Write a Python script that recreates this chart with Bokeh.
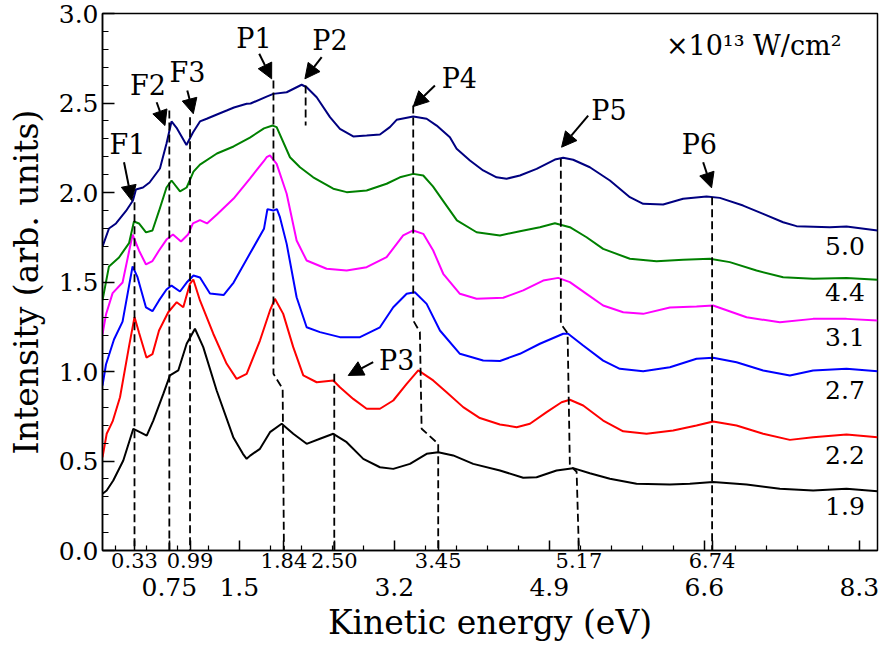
from bokeh.plotting import figure
from bokeh.models import (Range1d, FixedTicker, LinearAxis, Arrow, NormalHead,
                          ColumnDataSource)
from bokeh.core.properties import value
from bokeh.embed import file_html
from bokeh.resources import INLINE

FONT = "DejaVu Serif"

# ---------------- spectra (x: axis position in eV, y: intensity, arb. units) ----------------
x_19 = [0.0, 0.046, 0.118, 0.228, 0.338, 0.411, 0.485, 0.557, 0.667, 0.740, 0.831, 0.923, 1.014,
        1.105, 1.252, 1.434, 1.540, 1.581, 1.620, 1.727, 1.837, 1.965, 2.092, 2.239, 2.385, 2.531,
        2.678, 2.860, 3.043, 3.189, 3.372, 3.555, 3.682, 3.846, 4.066, 4.359, 4.614, 4.761, 4.980,
        5.162, 5.345, 5.565, 5.857, 6.223, 6.442, 6.697, 7.064, 7.429, 7.794, 8.160, 8.5]
y_19 = [0.317, 0.335, 0.391, 0.503, 0.680, 0.661, 0.642, 0.726, 0.875, 0.978, 1.006, 1.155, 1.239,
        1.136, 0.894, 0.633, 0.540, 0.512, 0.530, 0.568, 0.661, 0.708, 0.652, 0.596, 0.624, 0.652,
        0.605, 0.512, 0.465, 0.456, 0.484, 0.540, 0.549, 0.531, 0.484, 0.447, 0.406, 0.409, 0.447,
        0.460, 0.432, 0.401, 0.373, 0.369, 0.373, 0.382, 0.369, 0.345, 0.335, 0.345, 0.331]

x_22 = [0.0, 0.046, 0.111, 0.192, 0.291, 0.351, 0.400, 0.482, 0.548, 0.620, 0.721, 0.814, 0.886,
        0.959, 0.996, 1.069, 1.215, 1.362, 1.471, 1.581, 1.727, 1.837, 1.891, 1.982, 2.092, 2.202,
        2.349, 2.531, 2.604, 2.750, 2.897, 3.043, 3.189, 3.336, 3.463, 3.627, 3.774, 3.956, 4.139,
        4.359, 4.542, 4.688, 4.871, 5.035, 5.126, 5.272, 5.491, 5.711, 5.967, 6.259, 6.515, 6.697,
        6.954, 7.246, 7.539, 7.794, 8.160, 8.5]
y_22 = [0.520, 0.652, 0.721, 0.856, 1.140, 1.304, 1.218, 1.078, 1.097, 1.229, 1.331, 1.387, 1.359,
        1.490, 1.514, 1.397, 1.211, 1.043, 0.959, 0.987, 1.173, 1.341, 1.406, 1.322, 1.136, 0.978,
        0.940, 0.950, 0.912, 0.847, 0.792, 0.792, 0.838, 0.931, 1.006, 0.950, 0.884, 0.801, 0.740,
        0.704, 0.689, 0.708, 0.773, 0.828, 0.842, 0.810, 0.726, 0.666, 0.652, 0.670, 0.698, 0.721,
        0.698, 0.652, 0.618, 0.633, 0.648, 0.633]

x_27 = [0.0, 0.038, 0.126, 0.220, 0.291, 0.330, 0.384, 0.477, 0.548, 0.620, 0.702, 0.757, 0.850,
        0.923, 0.998, 1.069, 1.179, 1.328, 1.438, 1.617, 1.771, 1.809, 1.873, 1.913, 1.946, 2.020,
        2.129, 2.239, 2.385, 2.604, 2.824, 3.043, 3.189, 3.336, 3.426, 3.555, 3.701, 3.920, 4.175,
        4.359, 4.578, 4.797, 5.053, 5.107, 5.272, 5.491, 5.674, 5.930, 6.223, 6.515, 6.697, 6.954,
        7.246, 7.539, 7.794, 8.160, 8.5]
y_27 = [0.922, 1.039, 1.179, 1.279, 1.478, 1.587, 1.527, 1.358, 1.337, 1.397, 1.458, 1.480, 1.447,
        1.497, 1.536, 1.525, 1.436, 1.427, 1.497, 1.659, 1.797, 1.907, 1.899, 1.907, 1.862, 1.713,
        1.415, 1.247, 1.220, 1.192, 1.192, 1.247, 1.359, 1.434, 1.443, 1.378, 1.229, 1.099, 1.061,
        1.059, 1.099, 1.155, 1.211, 1.211, 1.145, 1.061, 1.015, 1.002, 1.024, 1.071, 1.077, 1.052,
        1.006, 0.978, 1.006, 1.015, 1.002]

x_31 = [0.0, 0.038, 0.111, 0.220, 0.330, 0.400, 0.477, 0.548, 0.620, 0.702, 0.773, 0.861, 0.938,
        0.992, 1.069, 1.146, 1.255, 1.438, 1.617, 1.771, 1.800, 1.837, 1.910, 2.020, 2.129, 2.239,
        2.458, 2.678, 2.897, 3.116, 3.298, 3.408, 3.518, 3.627, 3.737, 3.920, 4.103, 4.395, 4.614,
        4.833, 4.998, 5.126, 5.309, 5.491, 5.711, 5.930, 6.223, 6.515, 6.697, 7.064, 7.429, 7.794,
        8.160, 8.5]
y_31 = [1.208, 1.318, 1.438, 1.497, 1.765, 1.676, 1.598, 1.617, 1.676, 1.737, 1.765, 1.726, 1.765,
        1.827, 1.846, 1.827, 1.877, 1.966, 2.078, 2.176, 2.197, 2.207, 2.160, 1.993, 1.732, 1.620,
        1.574, 1.564, 1.583, 1.639, 1.760, 1.788, 1.769, 1.676, 1.546, 1.434, 1.406, 1.412, 1.453,
        1.508, 1.523, 1.499, 1.434, 1.369, 1.331, 1.322, 1.358, 1.363, 1.369, 1.303, 1.275, 1.294,
        1.294, 1.285]

x_44 = [0.0, 0.071, 0.181, 0.291, 0.345, 0.400, 0.477, 0.548, 0.620, 0.702, 0.757, 0.850, 0.923,
        0.998, 1.069, 1.255, 1.438, 1.617, 1.771, 1.866, 1.910, 2.056, 2.166, 2.311, 2.531, 2.678,
        2.897, 3.116, 3.262, 3.408, 3.518, 3.624, 3.755, 3.887, 4.103, 4.359, 4.578, 4.797, 4.962,
        5.126, 5.309, 5.491, 5.784, 6.077, 6.368, 6.661, 6.880, 7.173, 7.465, 7.794, 8.160, 8.5]
y_44 = [1.397, 1.587, 1.637, 1.717, 1.838, 1.827, 1.777, 1.788, 1.897, 2.028, 2.067, 2.006, 2.028,
        2.117, 2.156, 2.218, 2.257, 2.307, 2.358, 2.374, 2.365, 2.197, 2.141, 2.085, 2.021, 2.002,
        2.011, 2.049, 2.085, 2.104, 2.095, 2.034, 1.939, 1.844, 1.778, 1.760, 1.784, 1.806, 1.828,
        1.806, 1.750, 1.685, 1.630, 1.616, 1.624, 1.630, 1.611, 1.564, 1.527, 1.518, 1.523, 1.512]

x_50 = [0.0, 0.071, 0.148, 0.258, 0.334, 0.367, 0.444, 0.516, 0.630, 0.702, 0.757, 0.817, 0.921,
        0.992, 1.069, 1.143, 1.255, 1.362, 1.442, 1.581, 1.624, 1.800, 1.873, 2.020, 2.184, 2.239,
        2.349, 2.495, 2.604, 2.750, 2.897, 3.043, 3.152, 3.226, 3.408, 3.555, 3.665, 3.810, 3.884,
        4.030, 4.175, 4.322, 4.432, 4.578, 4.761, 4.962, 5.053, 5.162, 5.345, 5.565, 5.784, 5.930,
        6.149, 6.368, 6.625, 6.771, 7.026, 7.246, 7.465, 7.612, 7.977, 8.160, 8.5]
y_50 = [1.698, 1.799, 1.827, 1.897, 1.955, 2.017, 2.028, 2.056, 2.134, 2.274, 2.397, 2.358, 2.265,
        2.335, 2.397, 2.412, 2.436, 2.458, 2.475, 2.496, 2.497, 2.536, 2.551, 2.560, 2.602, 2.588,
        2.532, 2.421, 2.356, 2.313, 2.318, 2.324, 2.365, 2.406, 2.425, 2.412, 2.374, 2.309, 2.244,
        2.179, 2.123, 2.085, 2.077, 2.095, 2.132, 2.184, 2.194, 2.183, 2.141, 2.067, 1.974, 1.937,
        1.933, 1.965, 1.978, 1.970, 1.927, 1.881, 1.834, 1.812, 1.806, 1.810, 1.788]

intensities = ["1.9", "2.2", "2.7", "3.1", "4.4", "5.0"]
colors = ["#000000", "#ff0000", "#0000ff", "#ff00ff", "#008000", "#000080"]
label_x = [8.361, 8.361, 8.361, 8.361, 8.361, 8.361]
label_y = [0.247, 0.535, 0.896, 1.192, 1.443, 1.699]

# ---------------- peak markers ----------------
peak_names = ["F1", "F2", "F3", "P1", "P2", "P3", "P4", "P5", "P6"]
peak_text_x = [0.274, 0.499, 0.932, 1.661, 2.494, 3.226, 3.914, 5.554, 6.546]
peak_text_y = [2.268, 2.598, 2.668, 2.859, 2.849, 1.061, 2.638, 2.460, 2.270]
arrow_x0 = [0.236, 0.594, 0.930, 1.719, 2.404, 2.969, 3.646, 5.327, 6.588]
arrow_y0 = [2.169, 2.504, 2.570, 2.775, 2.756, 1.052, 2.598, 2.430, 2.169]
arrow_x1 = [0.320, 0.685, 0.996, 1.855, 2.220, 2.695, 3.408, 5.035, 6.680]
arrow_y1 = [1.955, 2.374, 2.440, 2.635, 2.635, 0.978, 2.480, 2.253, 2.026]

guide_xs = [[0.351, 0.351], [0.733, 0.733], [0.96, 0.96],
            [1.875, 1.875, 1.976, 1.99], [2.228, 2.228], [2.542, 2.542],
            [3.408, 3.408, 3.481, 3.50, 3.682, 3.682],
            [5.027, 5.027, 5.101, 5.126, 5.20, 5.225], [6.686, 6.686]]
guide_ys = [[1.946, 0.0], [2.458, 0.0], [2.421, 0.0],
            [2.626, 0.987, 0.903, 0.0], [2.598, 2.374], [0.987, 0.0],
            [2.486, 1.285, 1.220, 0.680, 0.596, 0.0],
            [2.188, 1.266, 1.214, 0.475, 0.44, 0.0], [1.974, 0.0]]

unit_text = ["×10¹³ W/cm²"]

# ---------------- axes ----------------
x_major_ticks = [1.5, 3.2, 4.9, 6.6, 8.3]
x_major_labels = ["1.5", "3.2", "4.9", "6.6", "8.3"]
x_minor_ticks = [0.14, 0.48, 0.82, 1.16, 1.84, 2.18, 2.52, 2.86, 3.54, 3.88, 4.22, 4.56,
                 5.24, 5.58, 5.92, 6.26, 6.94, 7.28, 7.62, 7.96]
x_peak_ticks = [0.351, 0.733, 0.96, 1.99, 2.542, 3.682, 5.225, 6.686]
x_peak_labels = ["0.33", "0.75", "0.99", "1.84", "2.50", "3.45", "5.17", "6.74"]
y_major_ticks = [0.0, 0.5, 1.0, 1.5, 2.0, 2.5, 3.0]
y_major_labels = ["0.0", "0.5", "1.0", "1.5", "2.0", "2.5", "3.0"]
y_minor_ticks = [0.1, 0.2, 0.3, 0.4, 0.6, 0.7, 0.8, 0.9, 1.1, 1.2, 1.3, 1.4, 1.6, 1.7, 1.8, 1.9,
                 2.1, 2.2, 2.3, 2.4, 2.6, 2.7, 2.8, 2.9]

p = figure(width=880, height=650, output_backend="svg", toolbar_location=None,
           x_range=Range1d(0, 8.5), y_range=Range1d(0, 3.0),
           min_border_left=102, min_border_right=3, min_border_top=13, min_border_bottom=100)
p.grid.visible = False
p.outline_line_color = "black"
p.outline_line_width = 1.5
p.background_fill_color = "white"
p.border_fill_color = "white"

# curves
series = [(x_19, y_19), (x_22, y_22), (x_27, y_27), (x_31, y_31), (x_44, y_44), (x_50, y_50)]
for (xs, ys), c in zip(series, colors):
    p.line(xs, ys, line_color=c, line_width=2)

# dashed guides
p.multi_line(xs=guide_xs, ys=guide_ys, line_color="black", line_width=1.8, line_dash="8 4")

# arrows
asrc = ColumnDataSource(dict(x0=arrow_x0, y0=arrow_y0, x1=arrow_x1, y1=arrow_y1))
p.add_layout(Arrow(source=asrc, x_start="x0", y_start="y0", x_end="x1", y_end="y1",
                   line_color="black", line_width=2,
                   end=NormalHead(size=15, fill_color="black", line_color="black", line_width=1)))

# peak names
p.text(x=peak_text_x, y=peak_text_y, text=peak_names, text_font=value(FONT),
       text_font_size="27px", text_align="center", text_baseline="middle", text_color="black")

# intensity labels
p.text(x=label_x, y=label_y, text=intensities, text_font=value(FONT),
       text_font_size="25px", text_align="right", text_baseline="middle", text_color="black")

# unit
p.text(x=[8.105], y=[2.821], text=unit_text, text_font=value(FONT),
       text_font_size="27px", text_align="right", text_baseline="middle", text_color="black")

# x axis A: ticks + peak labels
ax = p.xaxis[0]
over_a = {t: "" for t in x_major_ticks}
for t, lab in zip(x_peak_ticks, x_peak_labels):
    over_a[t] = "" if lab == "0.75" else lab
ax.ticker = FixedTicker(ticks=x_major_ticks + x_peak_ticks, minor_ticks=x_minor_ticks)
ax.major_label_overrides = over_a
ax.major_tick_in = 10
ax.major_tick_out = 0
ax.minor_tick_in = 5
ax.minor_tick_out = 0
ax.axis_line_width = 1.5
ax.major_tick_line_width = 1.5
ax.minor_tick_line_width = 1.2
ax.major_label_text_font = FONT
ax.major_label_text_font_size = "21px"
ax.major_label_standoff = 2
ax.major_label_text_color = "black"

# x axis B: lower-row labels + axis title
over_b = {0.733: "0.75"}
for t, lab in zip(x_major_ticks, x_major_labels):
    over_b[t] = lab
bx = LinearAxis(ticker=FixedTicker(ticks=[0.733] + x_major_ticks, minor_ticks=[]),
                major_label_overrides=over_b,
                axis_line_color=None, major_tick_line_color=None, minor_tick_line_color=None,
                major_label_text_font=FONT, major_label_text_font_size="25px",
                major_label_standoff=1, major_label_text_color="black",
                axis_label="Kinetic energy (eV)", axis_label_text_font=FONT,
                axis_label_text_font_size="33px", axis_label_text_font_style="normal",
                axis_label_standoff=4, axis_label_text_color="black")
p.add_layout(bx, "below")

# y axis
ay = p.yaxis[0]
ay.ticker = FixedTicker(ticks=y_major_ticks, minor_ticks=y_minor_ticks)
ay.major_label_overrides = {t: lab for t, lab in zip(y_major_ticks, y_major_labels)}
ay.major_tick_in = 12
ay.major_tick_out = 0
ay.minor_tick_in = 6
ay.minor_tick_out = 0
ay.axis_line_width = 1.5
ay.major_tick_line_width = 1.5
ay.minor_tick_line_width = 1.2
ay.major_label_text_font = FONT
ay.major_label_text_font_size = "25px"
ay.major_label_standoff = 4
ay.major_label_text_color = "black"
ay.axis_label = "Intensity (arb. units)"
ay.axis_label_text_font = FONT
ay.axis_label_text_font_size = "33px"
ay.axis_label_text_font_style = "normal"
ay.axis_label_standoff = 10
ay.axis_label_text_color = "black"

open("out.html", "w").write(file_html(p, INLINE))
